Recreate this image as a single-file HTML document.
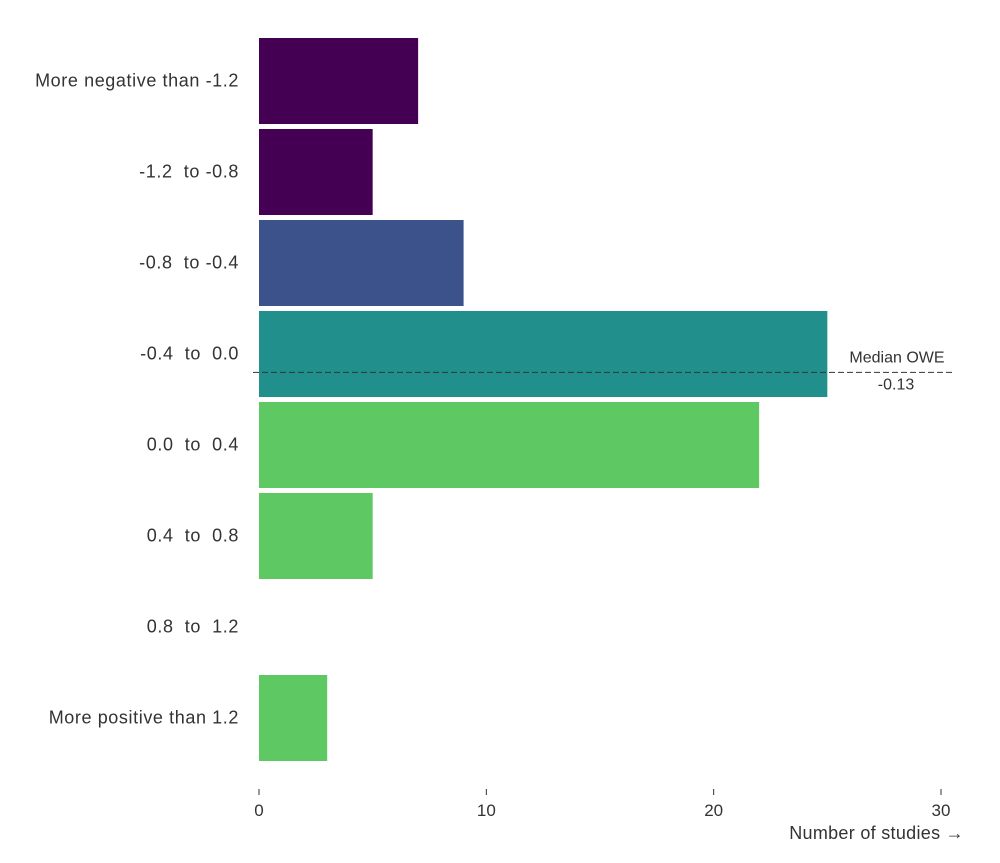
<!DOCTYPE html>
<html><head><meta charset="utf-8"><style>
body{margin:0;background:#fff}
svg{display:block;font-family:"Liberation Sans",sans-serif}
svg text{white-space:pre}
</style></head><body>
<svg id="chart" width="1000" height="863"></svg>
<script>
const categories=["More negative than -1.2","-1.2  to -0.8","-0.8  to -0.4","-0.4  to  0.0","0.0  to  0.4","0.4  to  0.8","0.8  to  1.2","More positive than 1.2"];
const counts=[7,5,9,25,22,5,0,3];
const colors=["#440154","#440154","#3b528b","#21908d","#5ec962","#5ec962","#5ec962","#5ec962"];
const xTicks=[0,10,20,30];
const medianValue=-0.13;
const binLows=[-1.6,-1.2,-0.8,-0.4,0.0,0.4,0.8,1.2];
const NS="http://www.w3.org/2000/svg";
const svg=document.getElementById("chart");
const x0=259,x1=941,topY=35,step=91,pad=3;
const xs=v=>x0+(x1-x0)*v/30;
function mk(t,a,p){const e=document.createElementNS(NS,t);for(const k in a)e.setAttribute(k,a[k]);(p||svg).appendChild(e);return e;}
categories.forEach((c,i)=>{
  const y=topY+i*step;
  if(counts[i]>0){
    const r=mk("rect",{x:x0,y:y+pad,width:xs(counts[i])-x0,height:step-2*pad+1,fill:colors[i]});
    
    
  }
  const t=mk("text",{x:239,y:y+step/2+6,"text-anchor":"end","font-size":18,"letter-spacing":0.6,fill:"#333"});
  
  
  t.textContent=c;
});
xTicks.forEach(v=>{
  const g=mk("g",{});
  
  
  mk("line",{x1:xs(v),x2:xs(v),y1:789,y2:795,stroke:"#333","stroke-width":1},g);
  const t=mk("text",{x:xs(v),y:816,"text-anchor":"middle","font-size":17,fill:"#333"},g);
  t.textContent=v;
});
const xt=mk("text",{x:964,y:839,"text-anchor":"end","font-size":18,"letter-spacing":0.3,fill:"#333"});


xt.textContent="Number of studies →";
const bi=binLows.findIndex((l,i)=>medianValue>=l&&medianValue<l+0.4);
const my=topY+bi*step+pad+(medianValue-binLows[bi])/0.4*step;
const ml=mk("line",{x1:253,x2:953,y1:my,y2:my,stroke:"#333","stroke-dasharray":"6,3","stroke-width":1});


const m1=mk("text",{x:897,y:my-10,"text-anchor":"middle","font-size":16,fill:"#333"});


m1.textContent="Median OWE";
const m2=mk("text",{x:896,y:my+17,"text-anchor":"middle","font-size":16,fill:"#333"});


m2.textContent=medianValue.toFixed(2);
</script>
</body></html>
